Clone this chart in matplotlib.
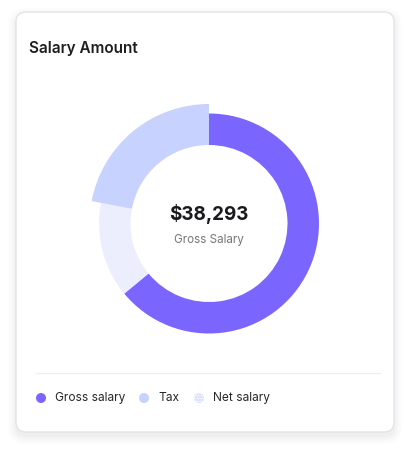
import matplotlib.pyplot as plt
from matplotlib.patches import FancyBboxPatch, Circle

plt.rcParams['font.family'] = ['Inter', 'DejaVu Sans']

# data
categories = ['Gross salary', 'Tax', 'Net salary']
shares = [64, 22, 14]
colors = ['#7A66FF', '#C7D2FE', '#ECEEFD']
total_label = '$38,293'
center_caption = 'Gross Salary'

W, H = 410, 453
fig = plt.figure(figsize=(W / 100, H / 100), dpi=100)
fig.patch.set_facecolor('white')

# background axes in pixel coords (y down)
bg = fig.add_axes([0, 0, 1, 1])
bg.set_xlim(0, W)
bg.set_ylim(H, 0)
bg.axis('off')

# soft shadow under the card
for i, a in enumerate([0.014, 0.013, 0.011, 0.009, 0.007, 0.006]):
    g = 1.0 + i * 1.5
    bg.add_patch(FancyBboxPatch((16 - g, 12 - g + 4), 378 + 2 * g, 420 + 2 * g,
                                boxstyle='round,pad=0,rounding_size=%g' % (10 + g),
                                facecolor='black', edgecolor='none', alpha=a, zorder=0))
bg.add_patch(FancyBboxPatch((16, 12), 378, 420, boxstyle='round,pad=0,rounding_size=10',
                            facecolor='white', edgecolor='#E2E2E6', linewidth=0.9, zorder=1))

bg.text(29, 49, 'Salary Amount', fontsize=11, fontweight='semibold', color='#1E1E22',
        ha='left', va='center', zorder=3)

# separator
bg.plot([36, 380], [373, 373], color='#EEEEF2', linewidth=0.9, zorder=2)

# legend
marker_x = [41, 144, 199]
for name, col, mx in zip(categories, colors, marker_x):
    if name == 'Net salary':
        bg.add_patch(Circle((mx, 398), 5, facecolor='#F1F3FE', edgecolor='#CDD5FC',
                            linewidth=0, hatch='......', zorder=3))
    else:
        bg.add_patch(Circle((mx, 398), 5, facecolor=col, edgecolor='none', zorder=3))
    bg.text(mx + 14.5, 398, name, fontsize=8.6, color='#27272B', ha='left', va='center', zorder=3)

# donut
cx, cy, half = 209, 223.5, 130
ax = fig.add_axes([(cx - half) / W, (H - cy - half) / H, 2 * half / W, 2 * half / H])
order = [0, 2, 1]  # clockwise from top: gross, net, tax
r_out, r_in = 110, 78.5
wedges, _ = ax.pie([shares[i] for i in order], colors=[colors[i] for i in order],
                   radius=r_out, startangle=90, counterclock=False,
                   wedgeprops=dict(width=r_out - r_in, linewidth=0))
tax_w = wedges[order.index(1)]
tax_w.set_radius(119.5)
tax_w.set_width(119.5 - r_in)
ax.set_xlim(-half, half)
ax.set_ylim(-half, half)
ax.set_aspect('equal')
ax.axis('off')

ax.text(0, 10, total_label, fontsize=13.6, fontweight='bold', color='#1A1A1E',
        ha='center', va='center')
ax.text(0, -16, center_caption, fontsize=8.4, color='#76767C', ha='center', va='center')

fig.savefig('out.png', dpi=100, facecolor='white')
